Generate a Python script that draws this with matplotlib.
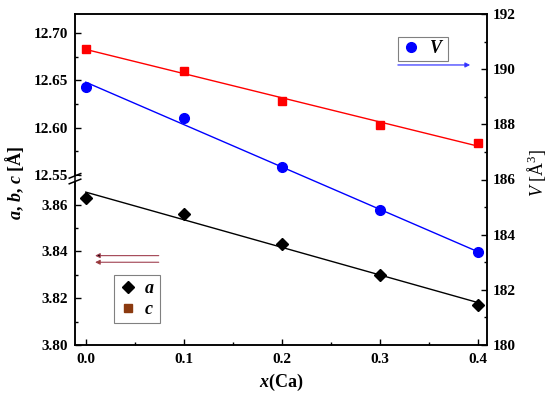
import matplotlib.pyplot as plt
import numpy as np
from matplotlib.lines import Line2D
from matplotlib.ticker import FixedLocator, FuncFormatter

# data
x_ca = [0.0, 0.1, 0.2, 0.3, 0.4]
a_val = [3.863, 3.856, 3.843, 3.830, 3.817]
c_val = [12.683, 12.660, 12.628, 12.603, 12.584]
V_val = [189.37, 188.22, 186.45, 184.89, 183.36]

left_major = [3.80, 3.82, 3.84, 3.86, 12.55, 12.60, 12.65, 12.70]
left_minor = [3.81, 3.83, 3.85, 12.575, 12.625, 12.675]

plt.rcParams['font.family'] = 'Liberation Serif'
plt.rcParams['mathtext.fontset'] = 'custom'
plt.rcParams['mathtext.rm'] = 'Liberation Serif'
plt.rcParams['mathtext.it'] = 'Liberation Serif:italic'
plt.rcParams['mathtext.bf'] = 'Liberation Serif:bold'
plt.rcParams['mathtext.bfit'] = 'Liberation Serif:bold:italic'

# broken left axis: lower part for a, upper part for c
lo0, lo1, hi0 = 3.80, 3.8715, 12.547
k_lo, k_hi = 2335.0, 946.0
u_brk = (lo1 - lo0) * k_lo


def fwd(y):
    y = np.asarray(y, dtype=float)
    return np.where(y <= lo1, (y - lo0) * k_lo,
                    np.where(y >= hi0, u_brk + (y - hi0) * k_hi, u_brk))


def inv(u):
    u = np.asarray(u, dtype=float)
    return np.where(u <= u_brk, lo0 + u / k_lo, hi0 + (u - u_brk) / k_hi)


fig = plt.figure(figsize=(5.5, 3.98), dpi=100)
ax = fig.add_axes([75 / 550, 53 / 398, 412 / 550, 331 / 398])
ax.set_yscale('function', functions=(fwd, inv))

def fit_line(xs, ys):
    p = np.polyfit(xs, ys, 1)
    return np.polyval(p, np.array(xs))

ax.plot(x_ca, fit_line(x_ca, a_val), color='black', lw=1.0, zorder=2)
ax.plot(x_ca, fit_line(x_ca, c_val), color='red', lw=1.0, zorder=2)
ax.plot(x_ca, a_val, 'D', color='black', ms=6.5, zorder=3)
ax.plot(x_ca, c_val, 's', color='red', ms=6, zorder=3)

ax.set_xlim(-0.011, 0.4097)
ax.set_ylim(3.80, 12.72)
ax.yaxis.set_major_locator(FixedLocator(left_major))
ax.yaxis.set_minor_locator(FixedLocator(left_minor))
ax.yaxis.set_major_formatter(FuncFormatter(lambda v, p: '%.2f' % v))
ax.xaxis.set_major_locator(FixedLocator(x_ca))
ax.xaxis.set_minor_locator(FixedLocator([0.05, 0.15, 0.25, 0.35]))
ax.xaxis.set_major_formatter(FuncFormatter(lambda v, p: '%.1f' % v))

ax2 = ax.twinx()
ax2.plot(x_ca, fit_line(x_ca, V_val), color='blue', lw=1.0, zorder=2)
ax2.plot(x_ca, V_val, 'o', color='blue', ms=7, zorder=3)
ax2.set_ylim(180, 192)
ax2.yaxis.set_major_locator(FixedLocator([180, 182, 184, 186, 188, 190, 192]))
ax2.yaxis.set_minor_locator(FixedLocator([181, 183, 185, 187, 189, 191]))

for a_ in (ax, ax2):
    for s in a_.spines.values():
        s.set_linewidth(1.1)
ax.tick_params(axis='both', which='both', direction='in', width=1.0,
               labelsize=11, top=False, right=False)
ax.tick_params(which='major', length=4)
ax.tick_params(which='minor', length=2.5)
ax.tick_params(axis='x', pad=6)
ax.tick_params(axis='y', pad=5)
ax2.tick_params(axis='y', which='both', direction='in', width=1.0,
                labelsize=11, pad=4)
ax2.tick_params(which='major', length=4)
ax2.tick_params(which='minor', length=2.5)
for lab in ax.get_xticklabels() + ax.get_yticklabels() + ax2.get_yticklabels():
    lab.set_fontweight('bold')

ax.set_xlabel(r'$\mathbfit{x}$(Ca)', fontsize=13, fontweight='bold', labelpad=4)
ax.set_ylabel(r'$\mathbfit{a}$, $\mathbfit{b}$, $\mathbfit{c}$ [Å]',
              fontsize=13, fontweight='bold')
ax.yaxis.set_label_coords(-0.119, 0.49)
ax2.set_ylabel(r'$V$ [Å$^3$]', fontsize=13, rotation=90)
ax2.yaxis.set_label_coords(1.092, 0.52)

# axis break marks on the left spine
yb1, yb2 = 0.511, 0.494
ax.add_patch(plt.Rectangle((-0.01, yb2), 0.02, yb1 - yb2, transform=ax.transAxes,
                           facecolor='white', edgecolor='none', clip_on=False, zorder=5))
for yb in (yb1, yb2):
    ax.plot([-0.014, 0.014], [yb - 0.007, yb + 0.007], color='black', lw=1.1,
            transform=ax.transAxes, clip_on=False, zorder=6)

# legends
h_ac = [Line2D([], [], marker='D', color='black', ls='none', ms=6.5),
        Line2D([], [], marker='s', color='#8b3a0f', ls='none', ms=6)]
leg1 = ax.legend(h_ac, [r'$\mathbfit{a}$', r'$\mathbfit{c}$'], loc='upper left',
                 bbox_to_anchor=(0.094, 0.212), fontsize=13, frameon=True,
                 fancybox=False, edgecolor='#808080', framealpha=1,
                 handlelength=1.0, handletextpad=0.4, borderpad=0.3,
                 labelspacing=0.2, borderaxespad=0)
leg1.get_frame().set_linewidth(0.8)

h_v = [Line2D([], [], marker='o', color='blue', ls='none', ms=7)]
leg2 = ax2.legend(h_v, [r'$\mathbfit{V}$'], loc='upper left',
                  bbox_to_anchor=(0.784, 0.932), fontsize=13, frameon=True,
                  fancybox=False, edgecolor='#808080', framealpha=1,
                  handlelength=1.0, handletextpad=0.5, borderpad=0.2,
                  borderaxespad=0)
leg2.get_frame().set_linewidth(0.8)

# arrows pointing to the relevant axis
for yy, head in ((0.270, 'black'), (0.250, '#8b3a0f')):
    ax.annotate('', xy=(0.042, yy), xytext=(0.210, yy), xycoords='axes fraction',
                arrowprops=dict(arrowstyle='-|>', mutation_scale=7, lw=0.8,
                                ec='#a04050', fc=head))
ax2.annotate('', xy=(0.966, 0.846), xytext=(0.777, 0.846), xycoords='axes fraction',
             arrowprops=dict(arrowstyle='-|>', mutation_scale=7, lw=0.9,
                             ec='#3b3bff', fc='#2020ff'))

fig.savefig('out.png', dpi=100)
